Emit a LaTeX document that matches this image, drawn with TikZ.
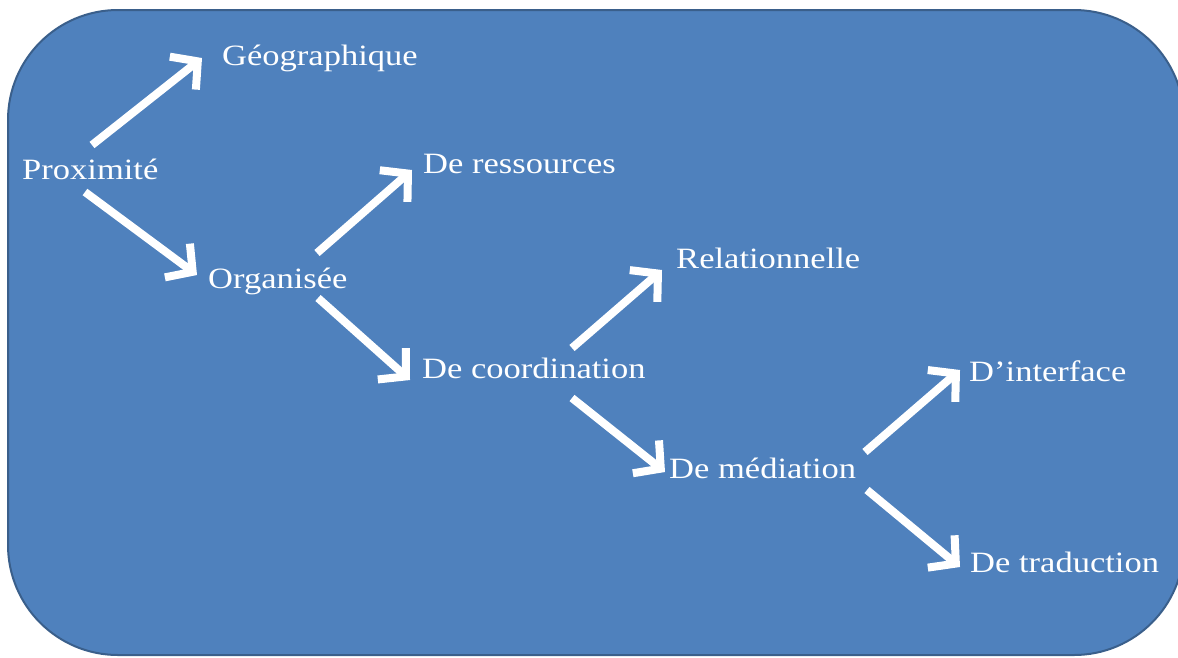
\documentclass[tikz,border=0pt]{standalone}
\usepackage{fontspec}
\setmainfont{Liberation Serif}
\usetikzlibrary{arrows.meta,calc}
\definecolor{boxfill}{HTML}{4F81BD}
\definecolor{boxline}{HTML}{3A5F8B}
\tikzset{
  lbl/.style={anchor=base west, inner sep=0pt, text=white, font=\fontsize{29.5}{31}\selectfont, xscale=1.17, transform shape},
  arr/.style={draw=white, line width=8pt, -{Straight Barb[length=19pt,width=42pt]}},
  panel/.style={fill=boxfill, draw=boxline, line width=2pt, rounded corners=110pt}
}
\begin{document}
\begin{tikzpicture}[x=1pt,y=-1pt]
\useasboundingbox (0,0) rectangle (1178,657);
\path[panel] (8,10) rectangle (1184,655);
\node[lbl] (prox) at (22,179) {Proximité};
\node[lbl] (geo) at (222,65) {Géographique};
\node[lbl] (res) at (423,173) {De ressources};
\node[lbl] (org) at (208,288) {Organisée};
\node[lbl] (rel) at (676,268) {Relationnelle};
\node[lbl] (coord) at (422,378) {De coordination};
\node[lbl] (inter) at (969,381) {D’interface};
\node[lbl] (med) at (669,478) {De médiation};
\node[lbl] (trad) at (970,572) {De traduction};
\draw[arr] ($(prox.base west)+(70,-34)$) -- ($(geo.base west)+(-20,-7)$);
\draw[arr] ($(prox.base west)+(63,13)$) -- ($(org.base west)+(-11,-13)$);
\draw[arr] ($(org.base west)+(109,-35)$) -- ($(res.base west)+(-11,-3)$);
\draw[arr] ($(org.base west)+(110,10)$) -- ($(coord.base west)+(-12,2)$);
\draw[arr] ($(coord.base west)+(150,-30)$) -- ($(rel.base west)+(-14,2)$);
\draw[arr] ($(coord.base west)+(150,20)$) -- ($(med.base west)+(-4,-6)$);
\draw[arr] ($(med.base west)+(196,-26)$) -- ($(inter.base west)+(-9,-11)$);
\draw[arr] ($(med.base west)+(198,12)$) -- ($(trad.base west)+(-10,-5)$);
\end{tikzpicture}
\end{document}
